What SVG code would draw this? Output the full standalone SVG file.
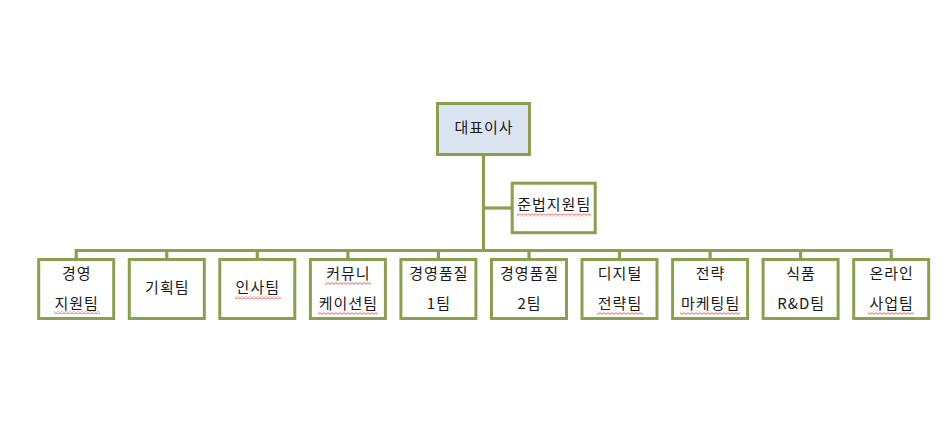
<svg xmlns="http://www.w3.org/2000/svg" width="952" height="431" viewBox="0 0 952 431">
<style>
.box{fill:#ffffff;stroke:#88a04f;stroke-width:3}
.top{fill:#dbe5f1;stroke:#88a04f;stroke-width:3}
.ln{stroke:#88a04f;stroke-width:3.2;fill:none}
text{font-family:"Noto Sans CJK KR","Noto Sans",sans-serif;font-size:15px;letter-spacing:1px;fill:#1a1a1a;text-anchor:middle}
.sq{fill:url(#sq)}
</style>
<defs>
<pattern id="sq" x="0" y="0" width="4" height="3" patternUnits="userSpaceOnUse">
<path d="M0 0.6 L2 2.4 L4 0.6" stroke="#e03030" stroke-width="0.8" fill="none"/>
</pattern>
</defs>
<rect width="952" height="431" fill="#ffffff"/>
<g id="connectors">
<path class="ln" d="M483.5 156 V250.5"/>
<path class="ln" d="M483.5 208 H512"/>
<path class="ln" d="M76.2 259 V250.5 H891.2 V259"/>
<path class="ln" d="M166.8 250.5 V259 M257.3 250.5 V259 M347.9 250.5 V259 M438.4 250.5 V259 M529 250.5 V259 M619.5 250.5 V259 M710.1 250.5 V259 M800.6 250.5 V259"/>
</g>
<g id="ceo">
<rect class="top" x="437.5" y="103.5" width="92" height="51"/>
<text x="484" y="133">대표이사</text>
</g>
<g id="compliance">
<rect class="box" x="512.2" y="183.2" width="83" height="49.5"/>
<text x="554.2" y="210">준법지원팀</text>
<rect class="sq" x="517" y="213.5" width="74" height="3"/>
</g>
<g id="team1">
<rect class="box" x="38.7" y="259.5" width="75" height="59"/>
<text x="76.7" y="279">경영</text>
<text x="76.7" y="309">지원팀</text>
<rect class="sq" x="54" y="311" width="46" height="3"/>
</g>
<g id="team2">
<rect class="box" x="129.3" y="259.5" width="75" height="59"/>
<text x="167.3" y="293">기획팀</text>
</g>
<g id="team3">
<rect class="box" x="219.8" y="259.5" width="75" height="59"/>
<text x="257.8" y="293">인사팀</text>
<rect class="sq" x="235" y="296" width="46" height="3"/>
</g>
<g id="team4">
<rect class="box" x="310.4" y="259.5" width="75" height="59"/>
<text x="348.4" y="279">커뮤니</text>
<rect class="sq" x="325" y="282" width="46" height="3"/>
<text x="348.4" y="309">케이션팀</text>
<rect class="sq" x="318" y="312" width="60" height="3"/>
</g>
<g id="team5">
<rect class="box" x="400.9" y="259.5" width="75" height="59"/>
<text x="438.9" y="279">경영품질</text>
<text x="438.9" y="309">1팀</text>
</g>
<g id="team6">
<rect class="box" x="491.5" y="259.5" width="75" height="59"/>
<text x="529.5" y="279">경영품질</text>
<text x="529.5" y="309">2팀</text>
</g>
<g id="team7">
<rect class="box" x="582" y="259.5" width="75" height="59"/>
<text x="620" y="279">디지털</text>
<text x="620" y="309">전략팀</text>
<rect class="sq" x="597" y="312" width="46" height="3"/>
</g>
<g id="team8">
<rect class="box" x="672.6" y="259.5" width="75" height="59"/>
<text x="710.6" y="279">전략</text>
<text x="710.6" y="309">마케팅팀</text>
<rect class="sq" x="680" y="312" width="60" height="3"/>
</g>
<g id="team9">
<rect class="box" x="763.1" y="259.5" width="75" height="59"/>
<text x="801.1" y="279">식품</text>
<text x="801.1" y="309">R&amp;D팀</text>
</g>
<g id="team10">
<rect class="box" x="853.7" y="259.5" width="75" height="59"/>
<text x="891.7" y="279">온라인</text>
<text x="891.7" y="309">사업팀</text>
<rect class="sq" x="868" y="312" width="46" height="3"/>
</g>
</svg>
